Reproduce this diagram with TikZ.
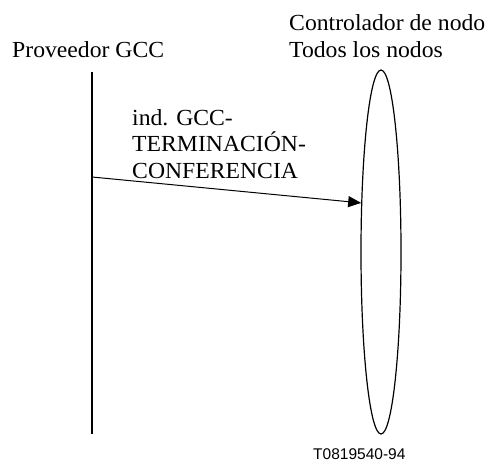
\documentclass[tikz,border=0pt]{standalone}
\usepackage{fontspec}
\setmainfont{Liberation Serif}[FakeStretch=1.03]
\newfontfamily\figsans{Liberation Sans}
\usetikzlibrary{shapes.geometric,arrows.meta}
\begin{document}
\begin{tikzpicture}[x=1pt,y=-1pt,
    lbl/.style={inner sep=0pt, anchor=base west, align=left, font=\fontsize{23}{26.5}\selectfont},
    msg/.style={line width=1pt, -{Triangle[length=13pt,width=11pt]}}]
    \useasboundingbox (0,0) rectangle (487,461);
    \node[lbl] (Proveedor) at (12,57) {Proveedor GCC};
    \node[lbl] (Controlador) at (289,57) {Controlador de nodo\\Todos los nodos};
    \node[draw, ellipse, line width=1.2pt, inner sep=0pt, minimum width=40pt, minimum height=364pt] (Nodos) at (381,252) {};
    \coordinate (ProvOben) at (92,72);
    \coordinate (ProvUnten) at (92,434);
    \coordinate (IndStart) at (92,177);
	%
  	\draw[line width=2pt] (ProvOben) -- (ProvUnten);
  	%
  	\draw[msg] (IndStart) to (Nodos.112);
  	\node[lbl] (Ind) at (132,178) {ind. GCC-\\TERMINACIÓN-\\CONFERENCIA};
  	%
  	\node[inner sep=0pt, anchor=base west, font=\figsans\fontsize{15.5}{18}\selectfont] (Ref) at (313,459) {T0819540-94};
    \end{tikzpicture}
\end{document}
